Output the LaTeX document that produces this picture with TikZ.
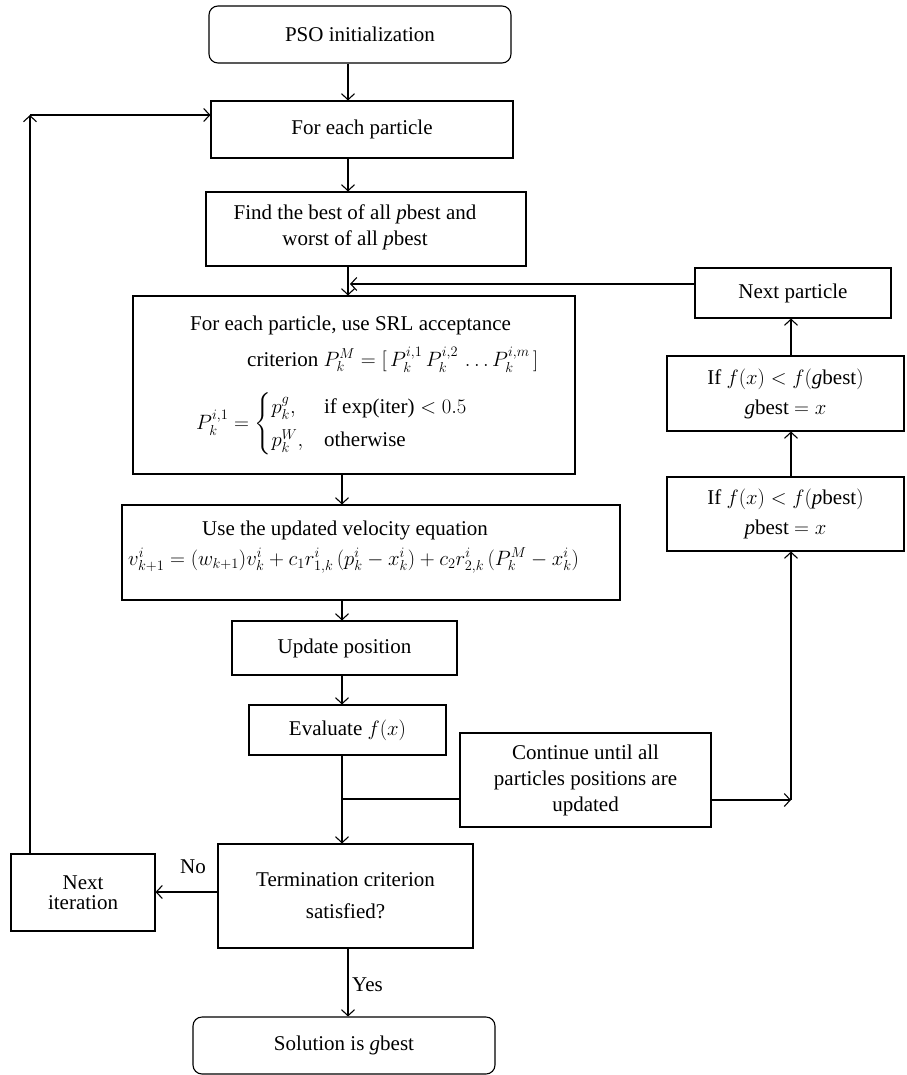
\documentclass[tikz,border=0pt]{standalone}
\usepackage{amsmath}
\usepackage{fontspec}
\setmainfont{Liberation Serif}
\usetikzlibrary{arrows.meta,calc}
\newcommand\myfs{\fontsize{21}{26}\selectfont}
\begin{document}
\begin{tikzpicture}[x=1pt,y=-1pt,
  box/.style={draw, line width=1.1pt, inner sep=0pt, align=center, font=\myfs},
  rbox/.style={box, rounded corners=9pt},
  txt/.style={inner sep=0pt, align=center, font=\myfs},
  ln/.style={line width=1.1pt},
  arr/.style={line width=1.1pt, -{Straight Barb[length=6pt,width=13pt,line width=1.1pt]}}]
\useasboundingbox (0,0) rectangle (906,1075);

% main column
\node[rbox, minimum width=302pt, minimum height=57pt] (pso) at (360,34.5) {PSO initialization};
\node[box, minimum width=302pt, minimum height=57pt] (fe) at (362,129.5) {For each particle};
\node[box, minimum width=320pt, minimum height=74pt] (fb) at (366,229) {};
\node[txt] (fbt) at (355,227) {Find the best of all \textit{p}best and\\worst of all \textit{p}best};

\node[box, minimum width=442pt, minimum height=178pt] (srl) at (354,385) {};
\node[txt, align=left, anchor=base west] (s1) at (190,366) {For each particle, use SRL acceptance\\[10pt]\hspace*{57pt}criterion $P_k^M = [\,P_k^{i,1}\,P_k^{i,2}\,\dots P_k^{i,m}\,]$};
\node[txt, anchor=west] (s3) at (196,424) {$P_k^{i,1} = \begin{cases} p_k^g, & \text{if}\ \text{exp(iter)} < 0.5\\[2pt] p_k^W, & \text{otherwise}\end{cases}$};

\node[box, minimum width=498pt, minimum height=95pt] (vel) at (371,552.5) {};
\node[txt, align=left, anchor=base west] (v1) at (128,565) {\hspace*{74pt}Use the updated velocity equation\\[4pt]$v_{k+1}^i = (w_{k+1})v_k^i + c_1 r_{1,k}^i\,(p_k^i - x_k^i) + c_2 r_{2,k}^i\,(P_k^M - x_k^i)$};

\node[box, minimum width=225pt, minimum height=54pt] (up) at (344.5,648) {Update position};
\node[box, minimum width=197pt, minimum height=50pt] (ev) at (347.5,730) {Evaluate $f(x)$};
\node[box, minimum width=251pt, minimum height=94pt] (cont) at (585.5,780) {Continue until all\\particles positions are\\updated};
\node[box, minimum width=255pt, minimum height=104pt] (term) at (345.5,896) {Termination criterion\\[6pt]satisfied?};
\node[box, minimum width=144pt, minimum height=77pt] (ni) at (83,892.5) {Next\\[-6pt]iteration};
\node[rbox, minimum width=302pt, minimum height=57pt] (sol) at (344,1045.5) {Solution is \textit{g}best};

% right column
\node[box, minimum width=196pt, minimum height=50pt] (np) at (793,293) {Next particle};
\node[box, minimum width=237pt, minimum height=75pt] (gb) at (785.5,393.5) {If $f(x) < f(\textit{g}\text{best})$\\[4pt]\textit{g}best $= x$};
\node[box, minimum width=237pt, minimum height=74pt] (pb) at (785.5,514) {If $f(x) < f(\textit{p}\text{best})$\\[4pt]\textit{p}best $= x$};

% connectors
\coordinate (xa) at (348,0);
\coordinate (xb) at (342,0);
\coordinate (xc) at (791,0);
\draw[arr] (pso.south -| xa) -- (fe.north -| xa);
\draw[arr] (fe.south -| xa) -- (fb.north -| xa);
\draw[arr] (fb.south -| xa) -- (srl.north -| xa);
\coordinate (npin) at (350,284);
\draw[arr] (np.west |- npin) -- (npin);
\draw[arr] (srl.south -| xb) -- (vel.north -| xb);
\draw[arr] (vel.south -| xb) -- (up.north -| xb);
\draw[arr] (up.south -| xb) -- (ev.north -| xb);
\draw[arr] (ev.south -| xb) -- (term.north -| xb);
\coordinate (j1) at (342,799);
\draw[ln] (j1) -- (cont.west |- j1);
\coordinate (j2) at (791,800);
\draw[arr] (cont.east |- j2) -- (j2);
\draw[arr] (j2) -- (pb.south -| j2);
\draw[arr] (pb.north -| xc) -- (gb.south -| xc);
\draw[arr] (gb.north -| xc) -- (np.south -| xc);
\coordinate (j3) at (0,892);
\draw[arr] (term.west |- j3) -- (ni.east |- j3);
\node[txt] (no) at (193,867) {No};
\coordinate (j4) at (30,115);
\draw[arr] (ni.north -| j4) -- (j4);
\draw[arr] (j4) -- (fe.west |- j4);
\draw[arr] (term.south -| xa) -- (sol.north -| xa);
\node[txt, anchor=west] (yes) at (352,985) {Yes};
\end{tikzpicture}
\end{document}
